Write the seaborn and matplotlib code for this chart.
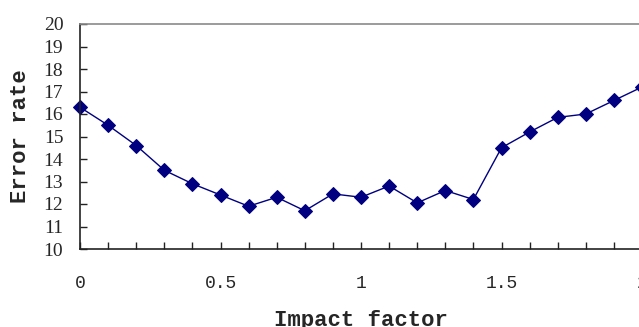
import matplotlib
matplotlib.use('Agg')
import matplotlib.pyplot as plt
from matplotlib.ticker import MultipleLocator
import pandas as pd
import seaborn as sns

# 数据
impact_factor = [0.0, 0.1, 0.2, 0.3, 0.4, 0.5, 0.6, 0.7, 0.8, 0.9, 1.0,
                 1.1, 1.2, 1.3, 1.4, 1.5, 1.6, 1.7, 1.8, 1.9, 2.0]
error_rate = [16.3, 15.5, 14.6, 13.5, 12.9, 12.4, 11.9, 12.3, 11.7, 12.45, 12.3,
              12.8, 12.05, 12.6, 12.2, 14.5, 15.2, 15.85, 16.0, 16.6, 17.2]
x_ticks = [0, 0.5, 1, 1.5, 2]
x_tick_labels = ['0', '0.5', '1', '1.5', '2']
y_ticks = list(range(10, 21))

df = pd.DataFrame({'impact': impact_factor, 'error': error_rate})

sns.set_style('white')
plt.rcParams['font.family'] = ['Liberation Serif', 'DejaVu Sans']

fig = plt.figure(figsize=(6.39, 3.27), dpi=100)
ax = fig.add_axes([80 / 639, 78 / 327, 562 / 639, 225 / 327])

sns.lineplot(data=df, x='impact', y='error', ax=ax, color='#000080',
             marker='D', markersize=7, markeredgecolor='#000080',
             linewidth=1.0, clip_on=False)

ax.set_xlim(0, 2)
ax.set_ylim(10, 20)
ax.set_yticks(y_ticks)
ax.set_xticks(x_ticks)
ax.set_xticklabels(x_tick_labels, family='Liberation Mono', fontsize=13)
ax.xaxis.set_minor_locator(MultipleLocator(0.1))
for lab in ax.get_yticklabels():
    lab.set_fontsize(14)

ax.tick_params(axis='y', which='major', direction='in', length=5, width=1,
               color='#222222', pad=12, left=True)
ax.tick_params(axis='x', which='both', direction='in', length=5, width=1,
               color='#222222', pad=19, bottom=True)

for side in ['left', 'bottom']:
    ax.spines[side].set_color('#222222')
    ax.spines[side].set_linewidth(1.2)
ax.spines['top'].set_color('#8a8a8a')
ax.spines['top'].set_linewidth(1.2)
ax.spines['right'].set_visible(False)

ax.set_xlabel('Impact factor', family='Liberation Mono', fontweight='bold',
              fontsize=16, labelpad=13)
ax.set_ylabel('Error rate', family='Liberation Mono', fontweight='bold',
              fontsize=16, labelpad=9)

fig.savefig('out.png', dpi=100)
plt.close(fig)
